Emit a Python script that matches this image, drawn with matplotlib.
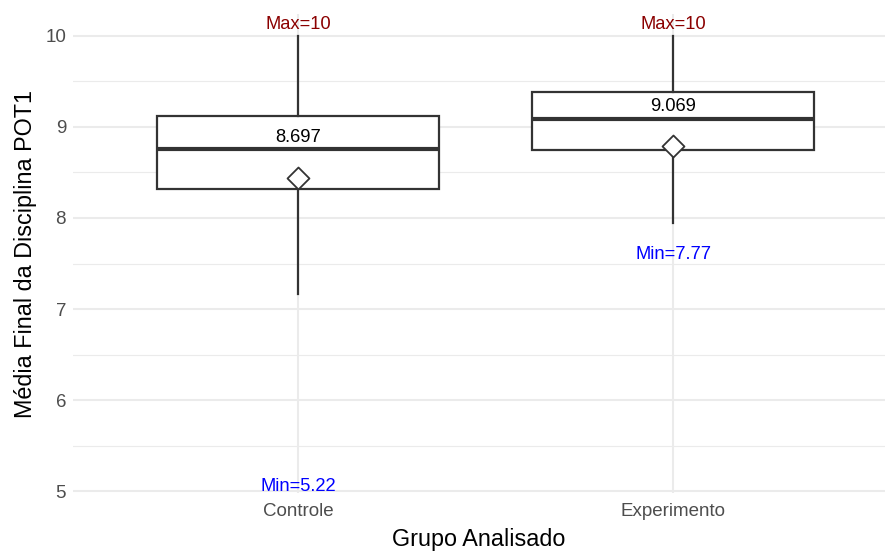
import numpy as np
import matplotlib.pyplot as plt

# dados
grupos = ['Controle', 'Experimento']
q1 = [8.32, 8.75]
mediana = [8.755, 9.09]
q3 = [9.12, 9.38]
whis_low = [7.165, 7.95]
whis_high = [10.0, 10.0]
media = [8.44, 8.79]
rotulo_media = ['8.697', '9.069']
minimo = [5.22, 7.77]
maximo = [10, 10]

plt.rcParams['font.family'] = ['Liberation Sans', 'DejaVu Sans']

fig = plt.figure(figsize=(8.85, 5.51), dpi=100)
ax = fig.add_axes([73 / 885, 1 - 493 / 551, 1 - 73 / 885, (493 - 14) / 551])

stats = []
for i in range(len(grupos)):
    stats.append({'label': grupos[i], 'q1': q1[i], 'med': mediana[i], 'q3': q3[i],
                  'whislo': whis_low[i], 'whishi': whis_high[i], 'fliers': []})

pos = np.arange(1, len(grupos) + 1)
ax.bxp(stats, positions=pos, widths=0.75, showcaps=False, patch_artist=True,
       boxprops=dict(facecolor='white', edgecolor='#333333', linewidth=1.6),
       whiskerprops=dict(color='#333333', linewidth=1.6),
       medianprops=dict(color='#333333', linewidth=3), zorder=3)

ax.scatter(pos, media, marker='D', s=125, facecolor='white', edgecolor='#333333',
           linewidth=1.3, zorder=5)

for i in range(len(grupos)):
    ax.annotate(rotulo_media[i], (pos[i], mediana[i]), xytext=(0, 2.5), textcoords='offset points',
                ha='center', va='bottom', fontsize=13.2, color='black', zorder=6)
    ax.annotate('Min=' + str(minimo[i]), (pos[i], minimo[i]), xytext=(0, -5), textcoords='offset points',
                ha='center', va='top', fontsize=13.2, color='blue', zorder=6)
    ax.annotate('Max=' + str(maximo[i]), (pos[i], maximo[i]), xytext=(0, 2), textcoords='offset points',
                ha='center', va='bottom', fontsize=13.2, color='#8B0000', zorder=6)

ax.set_xlim(0.4, 2.565)
ax.set_ylim(4.981, 10.239)
ax.set_yticks([5, 6, 7, 8, 9, 10])
ax.set_yticks([5.5, 6.5, 7.5, 8.5, 9.5], minor=True)
ax.set_xticks(pos)
ax.set_xticklabels(grupos)
ax.grid(True, which='major', color='#EBEBEB', linewidth=1.5, zorder=0)
ax.grid(True, which='minor', axis='y', color='#EBEBEB', linewidth=0.8, zorder=0)
ax.set_axisbelow(True)
for s in ax.spines.values():
    s.set_visible(False)
ax.tick_params(axis='x', which='both', length=0, labelsize=13.5, labelcolor='#4D4D4D', pad=7)
ax.tick_params(axis='y', which='both', length=0, labelsize=13.5, labelcolor='#4D4D4D', pad=5)
ax.set_xlabel('Grupo Analisado', fontsize=16.8, labelpad=6)
ax.set_ylabel('Média Final da Disciplina POT1', fontsize=16.8, labelpad=6)

fig.savefig('out.png', dpi=100)
